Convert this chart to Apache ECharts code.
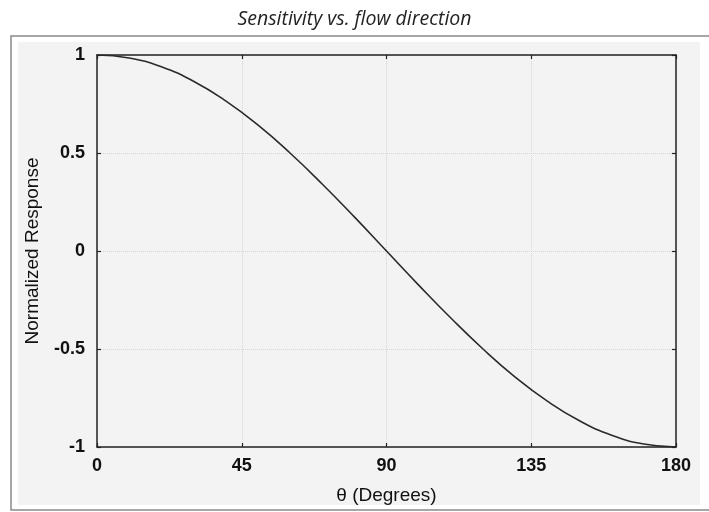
<!DOCTYPE html>
<html>
<head>
<meta charset="utf-8">
<script src="https://cdn.jsdelivr.net/npm/echarts@6/dist/echarts.min.js"></script>
<style>
html,body{margin:0;padding:0;background:#fff;}
#chart{width:709px;height:512px;}
</style>
</head>
<body>
<div id="chart"></div>
<script>
// Data
var thetaDegrees = [0, 10, 20, 30, 40, 50, 60, 70, 80, 90, 100, 110, 120, 130, 140, 150, 160, 170, 180];
var normalizedResponse = [1.00, 0.985, 0.94, 0.866, 0.766, 0.643, 0.50, 0.342, 0.174, 0.00, -0.174, -0.342, -0.50, -0.643, -0.766, -0.866, -0.94, -0.985, -1.00];
var xTicks = [0, 45, 90, 135, 180];
var yTicks = [-1, -0.5, 0, 0.5, 1];
var titleText = 'Sensitivity vs. flow direction';
var xName = 'θ (Degrees)';
var yName = 'Normalized Response';

var seriesData = thetaDegrees.map(function (t, i) { return [t, normalizedResponse[i]]; });

var chart = echarts.init(document.getElementById('chart'));
var FONT = 'Liberation Sans, Arial, sans-serif';
var labelFont = {color: '#111', fontSize: 18, fontWeight: 'bold', fontFamily: FONT};
var axisLineStyle = {show: true, onZero: false, lineStyle: {color: '#222', width: 1.5}};
var tickStyle = {show: true, inside: true, length: 4, lineStyle: {color: '#222', width: 1.2}};
var gridLine = {show: true, lineStyle: {color: '#d6d6d6', type: 'dotted', width: 1}};
chart.setOption({
  backgroundColor: '#ffffff',
  animation: false,
  title: {
    text: titleText,
    left: 'center',
    top: 4,
    textStyle: {fontStyle: 'italic', fontWeight: 'normal', fontSize: 19.5, color: '#222', fontFamily: 'Open Sans, sans-serif'}
  },
  graphic: [
    {type: 'rect', shape: {x: 11, y: 36, width: 710, height: 474}, style: {fill: 'none', stroke: '#8a8a8a', lineWidth: 1.5}, z: -10},
    {type: 'rect', shape: {x: 18, y: 42, width: 682, height: 463}, style: {fill: '#f3f3f3'}, z: -11}
  ],
  grid: {left: 97, right: 33, top: 55, bottom: 65, show: false},
  xAxis: [{
    type: 'value', min: xTicks[0], max: xTicks[xTicks.length - 1], interval: 45,
    name: xName, nameLocation: 'middle', nameGap: 39,
    nameTextStyle: {color: '#111', fontSize: 19, fontFamily: FONT},
    axisLine: axisLineStyle,
    axisTick: tickStyle,
    axisLabel: Object.assign({margin: 10}, labelFont),
    splitLine: gridLine
  }, {
    type: 'value', position: 'top', min: 0, max: 180, interval: 45,
    axisLine: axisLineStyle,
    axisTick: tickStyle,
    axisLabel: {show: false}, splitLine: {show: false}
  }],
  yAxis: [{
    type: 'value', min: yTicks[0], max: yTicks[yTicks.length - 1], interval: 0.5,
    name: yName, nameLocation: 'middle', nameGap: 55, nameRotate: 90,
    nameTextStyle: {color: '#111', fontSize: 19, fontFamily: FONT},
    axisLine: axisLineStyle,
    axisTick: tickStyle,
    axisLabel: Object.assign({margin: 12}, labelFont),
    splitLine: gridLine
  }, {
    type: 'value', position: 'right', min: -1, max: 1, interval: 0.5,
    axisLine: axisLineStyle,
    axisTick: tickStyle,
    axisLabel: {show: false}, splitLine: {show: false}
  }],
  series: [{
    type: 'line', data: seriesData, smooth: true, showSymbol: false,
    lineStyle: {color: '#2a2a2a', width: 1.6}
  }]
});
</script>
</body>
</html>
